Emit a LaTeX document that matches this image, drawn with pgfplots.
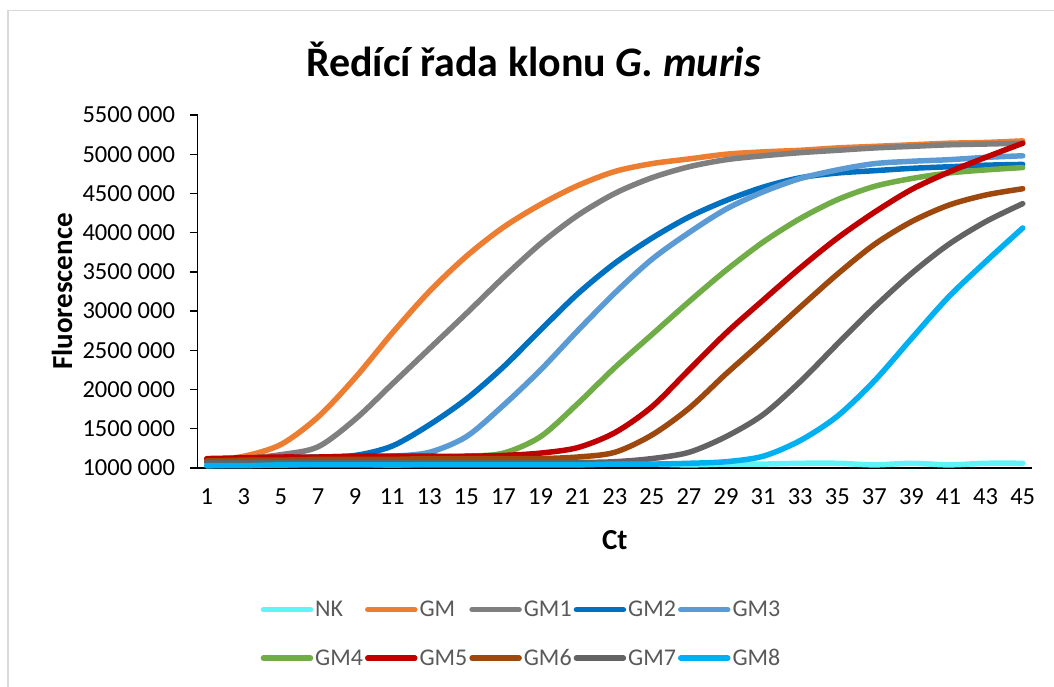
\documentclass[border=0pt]{standalone}
\usepackage{fontspec}
\setmainfont{Carlito}
\usepackage{pgfplots}
\usepackage{pgfplotstable}
\pgfplotsset{compat=1.18}
\definecolor{cNK}{RGB}{95,245,248}
\definecolor{cGM}{HTML}{ED7D31}
\definecolor{cGMa}{HTML}{7F7F7F}
\definecolor{cGMb}{HTML}{0070C0}
\definecolor{cGMc}{HTML}{5B9BD5}
\definecolor{cGMd}{HTML}{70AD47}
\definecolor{cGMe}{HTML}{C00000}
\definecolor{cGMf}{HTML}{9E480E}
\definecolor{cGMg}{HTML}{636363}
\definecolor{cGMh}{HTML}{00B0F0}
\definecolor{frame}{HTML}{D9D9D9}
\definecolor{legtext}{HTML}{595959}
% values in millions of fluorescence units
\pgfplotstableread{
x  NK   GM   GMa  GMb  GMc  GMd  GMe  GMf  GMg  GMh
1  1.03 1.09 1.10 1.11 1.10 1.11 1.12 1.09 1.07 1.03
3  1.04 1.15 1.12 1.12 1.11 1.12 1.13 1.10 1.07 1.03
5  1.04 1.30 1.17 1.13 1.12 1.12 1.14 1.10 1.07 1.04
7  1.05 1.65 1.27 1.14 1.13 1.13 1.14 1.11 1.07 1.04
9  1.05 2.15 1.62 1.16 1.14 1.13 1.15 1.11 1.07 1.04
11 1.04 2.72 2.07 1.28 1.15 1.13 1.15 1.11 1.07 1.04
13 1.05 3.25 2.52 1.55 1.20 1.14 1.15 1.12 1.07 1.04
15 1.05 3.70 2.97 1.88 1.40 1.15 1.15 1.12 1.07 1.04
17 1.05 4.07 3.43 2.29 1.80 1.19 1.16 1.12 1.07 1.04
19 1.05 4.36 3.86 2.76 2.25 1.40 1.19 1.12 1.07 1.04
21 1.05 4.60 4.22 3.22 2.75 1.82 1.26 1.14 1.07 1.04
23 1.05 4.78 4.50 3.61 3.23 2.28 1.45 1.20 1.08 1.05
25 1.05 4.88 4.70 3.93 3.66 2.70 1.78 1.42 1.12 1.05
27 1.04 4.94 4.84 4.20 4.00 3.12 2.25 1.76 1.20 1.06
29 1.05 5.00 4.93 4.41 4.30 3.52 2.72 2.20 1.40 1.08
31 1.05 5.03 4.98 4.58 4.52 3.88 3.14 2.62 1.68 1.15
33 1.06 5.05 5.02 4.70 4.69 4.18 3.55 3.05 2.10 1.35
35 1.06 5.08 5.05 4.76 4.80 4.42 3.93 3.47 2.58 1.66
37 1.04 5.10 5.08 4.79 4.88 4.59 4.26 3.85 3.05 2.11
39 1.06 5.12 5.10 4.82 4.91 4.69 4.55 4.14 3.48 2.65
41 1.04 5.14 5.12 4.84 4.93 4.76 4.77 4.35 3.85 3.18
43 1.06 5.15 5.13 4.86 4.96 4.80 4.96 4.48 4.14 3.63
45 1.06 5.17 5.14 4.87 4.98 4.83 5.14 4.56 4.37 4.06
}\datatable
\begin{document}
\begin{tikzpicture}[x=1pt,y=1pt]
\useasboundingbox (0,0) rectangle (1054,686);
\draw[color=frame, line width=1.5pt] (8,-2) -- (8,675.5) -- (1056,675.5);
\node[font=\fontsize{42}{48}\selectfont\bfseries] at (533.5,627) {Ředící řada klonu \textit{G. muris}};
\begin{axis}[
  at={(197.5pt,218pt)}, anchor=south west,
  scale only axis, width=834.5pt, height=353pt,
  xmin=0.5, xmax=45.5, ymin=1, ymax=5.5,
  clip=false,
  axis lines*=left,
  axis line style={line width=1.5pt, black},
  xtick={1,3,...,45},
  ytick={1,1.5,2,2.5,3,3.5,4,4.5,5,5.5},
  yticklabels={1000 000,1500 000,2000 000,2500 000,3000 000,3500 000,4000 000,4500 000,5000 000,5500 000},
  /pgf/number format/assume math mode=true,
  tick align=outside,
  major tick length=7pt,
  major x tick style={draw=none},
  major y tick style={line width=1.3pt, black},
  tick label style={font=\fontsize{24.5}{29}\selectfont, text=black},
  xticklabel style={anchor=center, yshift=-22pt},
  yticklabel style={anchor=east, xshift=-12pt},
  xlabel={Ct}, ylabel={Fluorescence},
  label style={font=\fontsize{29}{34}\selectfont\bfseries},
  xlabel style={at={(axis description cs:0.5,-0.204)}, anchor=center},
  ylabel style={at={(axis description cs:-0.1624,0.5)}, anchor=center, rotate=0},
  legend columns=5,
  legend cell align=left,
  legend image code/.code={\draw[#1, line width=5.5pt, line cap=round] (0pt,0pt) -- (47pt,0pt);},
  legend style={draw=none, fill=none, inner sep=0pt,
    font=\fontsize{24}{28}\selectfont, text=legtext,
    at={(axis description cs:0.0755,-0.371)}, anchor=north west,
    row sep=27pt, column sep=0pt},
  every axis plot/.append style={line width=5.5pt, line cap=round, line join=round, smooth},
]
\addplot[cNK]  table[x=x, y=NK]  {\datatable}; \addlegendentry{NK}
\addplot[cGM]  table[x=x, y=GM]  {\datatable}; \addlegendentry{GM}
\addplot[cGMa] table[x=x, y=GMa] {\datatable}; \addlegendentry{GM1}
\addplot[cGMb] table[x=x, y=GMb] {\datatable}; \addlegendentry{GM2}
\addplot[cGMc] table[x=x, y=GMc] {\datatable}; \addlegendentry{GM3}
\addplot[cGMd] table[x=x, y=GMd] {\datatable}; \addlegendentry{GM4}
\addplot[cGMe] table[x=x, y=GMe] {\datatable}; \addlegendentry{GM5}
\addplot[cGMf] table[x=x, y=GMf] {\datatable}; \addlegendentry{GM6}
\addplot[cGMg] table[x=x, y=GMg] {\datatable}; \addlegendentry{GM7}
\addplot[cGMh] table[x=x, y=GMh] {\datatable}; \addlegendentry{GM8}
\end{axis}
\end{tikzpicture}
\end{document}
